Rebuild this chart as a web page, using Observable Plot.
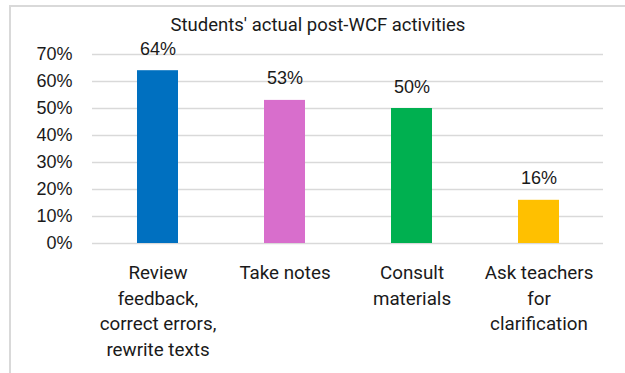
<!DOCTYPE html>
<html>
<head>
<meta charset="utf-8">
<script src="https://cdn.jsdelivr.net/npm/d3@7"></script>
<script src="https://cdn.jsdelivr.net/npm/@observablehq/plot@0.6"></script>
<style>
  body { margin: 0; background: #fff; }
  #frame {
    position: absolute; left: 9px; top: 5px; width: 616px; height: 368px;
    border-left: 2px solid #d9d9d9; border-top: 2px solid #d9d9d9;
    box-sizing: border-box; overflow: hidden;
  }
  #title {
    height: 36px; line-height: 36px; text-align: center;
    font-family: Roboto, "Liberation Sans", sans-serif; font-size: 18.5px; color: #1a1a1a;
  }
  #chart svg { display: block; }
</style>
</head>
<body>
<div id="frame">
  <div id="title">Students' actual post-WCF activities</div>
  <div id="chart"></div>
</div>
<script>
// Share of students doing each activity after receiving written corrective feedback
const activities = [
  "Review feedback, correct errors, rewrite texts",
  "Take notes",
  "Consult materials",
  "Ask teachers for clarification"
];
const shares = [64, 53, 50, 16];
const barColors = ["#0070C0", "#D86ECC", "#00B050", "#FFC000"];
const tickLabels = [
  "Review\nfeedback,\ncorrect errors,\nrewrite texts",
  "Take notes",
  "Consult\nmaterials",
  "Ask teachers\nfor\nclarification"
];
const yTicks = [0, 10, 20, 30, 40, 50, 60, 70];

const rows = activities.map((a, i) => ({activity: a, share: shares[i], color: barColors[i]}));
const pct = d => `${d}%`;

const chart = Plot.plot({
  width: 614,
  height: 330,
  marginLeft: 81,
  marginRight: 22,
  marginTop: 11,
  marginBottom: 130,
  style: {
    fontFamily: "'Liberation Sans', Arial, sans-serif",
    fontSize: "18px",
    color: "#1a1a1a",
    background: "transparent",
    overflow: "visible"
  },
  x: {domain: activities, paddingInner: 0.68, paddingOuter: 0.34, label: null, axis: null},
  y: {domain: [0, 70], label: null, axis: null},
  marks: [
    Plot.gridY(yTicks, {stroke: "#d9d9d9", strokeOpacity: 1, strokeWidth: 1.6}),
    Plot.axisY(yTicks, {tickSize: 0, tickPadding: 20, tickFormat: pct, label: null, fontSize: 18}),
    Plot.barY(rows, {x: "activity", y: "share", fill: "color"}),
    Plot.text(rows, {
      x: "activity", y: "share", text: d => pct(d.share),
      lineAnchor: "bottom", dy: -16, fontSize: 18, fill: "#1a1a1a"
    }),
    Plot.axisX({
      tickSize: 0, tickPadding: 17, label: null,
      tickFormat: d => tickLabels[activities.indexOf(d)],
      lineHeight: 1.37, fontFamily: "Roboto, sans-serif", fontSize: 18.8
    })
  ]
});
document.getElementById("chart").append(chart);
</script>
</body>
</html>
